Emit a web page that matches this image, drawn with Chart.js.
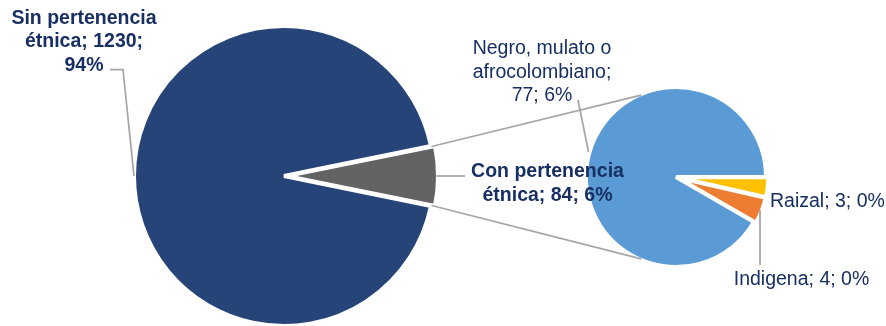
<!DOCTYPE html>
<html>
<head>
<meta charset="utf-8">
<script src="https://cdn.jsdelivr.net/npm/chart.js@4.4.1/dist/chart.umd.min.js"></script>
<style>
  html, body { margin: 0; padding: 0; background: #fff; }
  #wrap { position: relative; width: 886px; height: 326px; }
  #wrap canvas { position: absolute; left: 0; top: 0; }
</style>
</head>
<body>
<div id="wrap">
  <canvas id="main" width="886" height="326"></canvas>
  <canvas id="detail" width="886" height="326"></canvas>
</div>
<script>
// main pie: population with / without ethnic affiliation
const mainLabels = ['Con pertenencia étnica', 'Sin pertenencia étnica'];
const mainValues = [84, 1230];
const mainColors = ['#636363', '#264478'];

// breakdown of the "con pertenencia" slice
const detailLabels = ['Raizal', 'Indigena', 'Negro, mulato o afrocolombiano'];
const detailValues = [3, 4, 77];
const detailColors = ['#ffc000', '#ed7d31', '#5b9bd5'];

const total = mainValues.reduce((a, b) => a + b, 0);
const pct = (v) => Math.round(v / total * 100) + '%';
const labelText = (name, v) => `${name}; ${v}; ${pct(v)}`;

const FONT = '"Liberation Sans", Arial, sans-serif';
const TEXT_COLOR = '#172f62';
const LINE_COLOR = '#a6a6a6';

const baseOptions = {
  responsive: false,
  animation: false,
  events: [],
  plugins: { legend: { display: false }, tooltip: { enabled: false } },
};

// gray slice centred on 3 o'clock
const mainRotation = 90 - (mainValues[0] / total) * 180;

const main = new Chart(document.getElementById('main'), {
  type: 'pie',
  data: {
    labels: mainLabels,
    datasets: [{
      data: mainValues,
      backgroundColor: mainColors,
      borderColor: '#fff',
      borderWidth: 4,
      offset: [10, 0],
      rotation: mainRotation,
      radius: 150,
    }],
  },
  options: {
    ...baseOptions,
    layout: { padding: { top: 26, right: 318, left: 0, bottom: 0 } },
  },
});

function arcPoint(arc, angle, extra) {
  const off = (arc.options.offset || 0) / 4;
  const mid = (arc.startAngle + arc.endAngle) / 2;
  const cx = arc.x + Math.cos(mid) * off;
  const cy = arc.y + Math.sin(mid) * off;
  const r = arc.outerRadius + extra;
  return [cx + Math.cos(angle) * r, cy + Math.sin(angle) * r];
}

function polyline(ctx, pts) {
  ctx.beginPath();
  ctx.moveTo(pts[0][0], pts[0][1]);
  pts.slice(1).forEach((p) => ctx.lineTo(p[0], p[1]));
  ctx.stroke();
}

function wrap(ctx, text, maxW) {
  const words = text.split(' ');
  const lines = [];
  let cur = '';
  words.forEach((w) => {
    const test = cur ? cur + ' ' + w : w;
    if (cur && ctx.measureText(test).width > maxW) {
      lines.push(cur);
      cur = w;
    } else {
      cur = test;
    }
  });
  if (cur) lines.push(cur);
  return lines;
}

const deg = (d) => d * Math.PI / 180;

const callouts = {
  id: 'callouts',
  afterDraw(chart) {
    const ctx = chart.ctx;
    const mainArcs = main.getDatasetMeta(0).data;
    const arcs = chart.getDatasetMeta(0).data;
    const gray = mainArcs[0];
    const sin = mainArcs[1];
    const blue = arcs[2];
    const orange = arcs[1];

    ctx.save();
    ctx.strokeStyle = LINE_COLOR;
    ctx.lineWidth = 1.75;

    // connectors between the two pies
    polyline(ctx, [arcPoint(gray, gray.startAngle, -2), arcPoint(blue, deg(-113), -1)]);
    polyline(ctx, [arcPoint(gray, gray.endAngle, -2), arcPoint(blue, deg(113), -1)]);

    // leader lines
    polyline(ctx, [[110, 69.5], [123, 69.5], arcPoint(sin, Math.PI, 0)]);
    const conEdge = arcPoint(gray, (gray.startAngle + gray.endAngle) / 2, 0);
    polyline(ctx, [conEdge, [465, conEdge[1]]]);
    polyline(ctx, [[578, 100], arcPoint(blue, deg(196), 1)]);
    const indEdge = arcPoint(orange, (orange.startAngle + orange.endAngle) / 2, -1);
    polyline(ctx, [indEdge, [indEdge[0], 265]]);

    // labels
    const labels = [
      { text: labelText(mainLabels[1], mainValues[1]), bold: true, x: 84, y: 24, align: 'center', maxW: 152 },
      { text: labelText(mainLabels[0], mainValues[0]), bold: true, x: 547.5, y: 177.3, align: 'center', maxW: 160 },
      { text: labelText(detailLabels[2], detailValues[2]), bold: false, x: 542, y: 54.3, align: 'center', maxW: 150 },
      { text: labelText(detailLabels[0], detailValues[0]), bold: false, x: 770, y: 206.7, align: 'left', maxW: 400 },
      { text: labelText(detailLabels[1], detailValues[1]), bold: false, x: 801.5, y: 285, align: 'center', maxW: 400 },
    ];
    ctx.fillStyle = TEXT_COLOR;
    ctx.textBaseline = 'alphabetic';
    labels.forEach((l) => {
      ctx.font = (l.bold ? 'bold ' : '') + '19.5px ' + FONT;
      ctx.textAlign = l.align;
      wrap(ctx, l.text, l.maxW).forEach((line, i) => {
        ctx.fillText(line, l.x, l.y + i * 23.3);
      });
    });
    ctx.restore();
  },
};

const detail = new Chart(document.getElementById('detail'), {
  type: 'pie',
  data: {
    labels: detailLabels,
    datasets: [{
      data: detailValues,
      backgroundColor: detailColors,
      borderColor: '#fff',
      borderWidth: 4,
      offset: [5, 5, 0],
      rotation: 90,
      radius: 90,
    }],
  },
  options: {
    ...baseOptions,
    layout: { padding: { top: 28, left: 466, right: 0, bottom: 0 } },
  },
  plugins: [callouts],
});
</script>
</body>
</html>
